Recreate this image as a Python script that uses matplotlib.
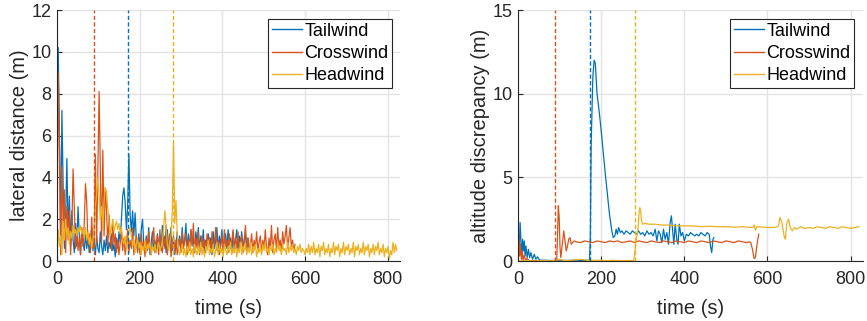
import numpy as np
import matplotlib
matplotlib.use("Agg")
import matplotlib.pyplot as plt

plt.rcParams['font.family'] = ['Liberation Sans', 'DejaVu Sans']

series_names = ["Tailwind", "Crosswind", "Headwind"]
colors = ["#0072BD", "#D95319", "#EDB120"]

# switch-over instants (s) for each wind case
switch_times = [172, 90, 281]

# lateral distance (m), sampled every 3 s
lat_step = 3
lat_tail = [4.5, 10.2, 6.0, 1.0, 7.2, 3.5, 0.6, 2.0, 4.9, 1.2, 3.1, 0.8, 2.4, 1.0, 0.4, 1.8, 0.7, 2.6, 1.2, 0.3,
            1.5, 0.9, 0.5, 1.3, 0.6, 1.1, 0.4, 0.9, 1.6, 0.5, 0.9, 0.3, 1.2, 0.6, 0.4, 1.4, 0.7, 0.3, 1.0, 0.5,
            1.2, 0.4, 0.9, 0.6, 1.3, 0.5, 0.8, 0.2, 1.1, 0.6, 1.4, 0.9, 2.0, 3.1, 3.5, 2.8, 1.5, 2.6, 5.1, 2.2,
            1.4, 2.4, 1.2, 2.3, 1.0, 0.5, 1.3, 0.7, 1.5, 2.0, 0.8, 0.4, 1.2, 0.6, 1.6, 0.3, 0.9, 1.4, 0.5, 1.0,
            0.4, 1.3, 0.7, 1.1, 0.5, 1.7, 0.8, 1.2, 0.4, 1.5, 0.6, 0.9, 1.6, 0.5, 1.1, 0.3, 0.8, 1.4, 0.6, 1.2,
            0.5, 1.6, 0.7, 1.0, 1.8, 0.4, 1.3, 0.6, 1.5, 0.8, 1.1, 0.4, 1.4, 0.9, 1.6, 0.5, 1.2, 0.7, 1.5, 0.4,
            1.0, 0.6, 1.3, 0.8, 1.1, 0.3, 1.4, 0.6, 1.0, 1.6, 0.5, 1.2, 0.7, 1.5, 0.4, 1.0, 1.3, 0.6, 1.5, 0.8,
            1.1, 0.4, 1.4, 0.7, 1.0, 1.5, 0.5, 1.2, 0.8, 1.4, 0.6, 1.0, 1.3, 0.5, 1.1, 0.7]
lat_cross = [0.5, 9.0, 5.4, 0.3, 4.5, 1.5, 3.4, 0.4, 2.6, 1.0, 2.4, 0.3, 1.6, 4.4, 2.5, 0.6, 1.4, 0.5, 1.1, 0.3,
             1.6, 0.7, 1.8, 3.7, 2.8, 0.8, 1.3, 0.4, 2.1, 0.6, 1.2, 5.1, 0.8, 4.6, 8.1, 4.2, 0.9, 5.3, 1.2, 3.5,
             2.4, 0.7, 2.2, 1.1, 0.5, 1.8, 0.8, 1.3, 0.4, 1.0, 0.3, 0.9, 1.4, 0.5, 1.1, 0.3, 0.8, 1.5, 0.4, 1.0,
             0.6, 1.6, 0.3, 0.8, 1.2, 0.4, 0.9, 0.3, 1.3, 0.6, 0.9, 0.2, 1.1, 0.5, 1.4, 0.7, 0.3, 1.0, 1.6, 0.4,
             0.8, 1.2, 0.3, 1.5, 0.7, 0.4, 1.1, 0.6, 1.7, 0.3, 0.9, 1.3, 0.2, 0.8, 1.2, 0.4, 1.0, 0.3, 0.7, 1.1,
             0.4, 1.4, 0.6, 0.9, 1.3, 0.3, 1.0, 0.5, 1.5, 0.7, 1.8, 0.4, 1.1, 0.6, 1.4, 0.3, 0.9, 1.2, 0.5, 1.0,
             0.4, 1.3, 0.7, 1.1, 0.4, 1.4, 0.6, 0.9, 1.6, 0.5, 1.0, 0.3, 0.8, 1.2, 0.5, 1.5, 0.7, 1.0, 0.4, 1.3,
             0.6, 0.9, 1.5, 0.4, 1.1, 0.6, 1.4, 0.5, 0.9, 1.2, 0.4, 1.0, 1.7, 0.6, 1.1, 0.5, 0.8, 1.3, 0.4, 1.0,
             0.6, 1.4, 0.5, 0.9, 1.2, 0.4, 1.0, 0.6, 1.5, 0.7, 0.3, 1.1, 0.6, 1.7, 0.4, 1.0, 1.3, 0.5, 1.6, 0.7,
             1.0, 0.4, 1.4, 0.8, 1.2, 1.7, 0.6, 1.1, 1.6, 0.7, 1.0, 0.5, 0.8]
lat_head = [0.5, 1.5, 0.7, 1.2, 0.3, 1.9, 1.0, 2.0, 1.2, 1.6, 0.8, 1.4, 1.1, 1.7, 1.3, 1.5, 1.2, 1.6, 1.4, 1.7,
            1.3, 1.5, 1.1, 1.6, 1.0, 1.4, 0.8, 1.2, 0.6, 1.0, 1.5, 2.6, 3.2, 4.0, 3.1, 2.0, 2.6, 1.5, 2.9, 3.5,
            3.3, 2.5, 1.8, 1.2, 1.6, 2.0, 1.4, 1.7, 1.9, 1.5, 1.8, 1.3, 1.6, 1.0, 0.8, 1.2, 0.5, 0.9, 1.4, 1.6,
            1.2, 0.7, 1.0, 0.4, 0.8, 1.1, 0.6, 0.9, 0.3, 0.7, 0.5, 1.0, 0.4, 0.8, 0.6, 0.9, 0.3, 0.7, 0.5, 0.8,
            0.4, 0.6, 0.9, 0.5, 0.7, 1.0, 1.6, 2.4, 1.7, 0.8, 0.5, 0.9, 1.2, 2.4, 5.6, 1.8, 2.9, 1.2, 0.6, 0.3,
            0.5, 0.8, 0.3, 0.6, 0.2, 0.7, 0.4, 0.9, 0.3, 0.6, 0.2, 0.8, 0.5, 0.3, 0.7, 0.4, 0.9, 0.3, 0.6, 0.2,
            0.7, 0.5, 1.0, 0.3, 0.6, 0.4, 0.8, 0.2, 0.5, 0.9, 0.3, 0.7, 0.4, 0.6, 0.2, 0.8, 0.5, 0.3, 0.7, 0.4,
            0.9, 0.3, 0.6, 0.4, 0.8, 0.2, 0.6, 0.4, 0.9, 0.3, 0.7, 0.5, 0.8, 0.3, 0.6, 0.4, 0.9, 0.3, 0.7, 0.5,
            0.8, 0.2, 0.6, 0.4, 0.7, 0.3, 0.8, 0.5, 0.9, 0.4, 0.6, 0.3, 0.7, 0.5, 0.8, 0.3, 0.6, 0.4, 0.9, 0.5,
            0.7, 0.3, 0.8, 0.5, 0.6, 0.3, 0.9, 0.4, 0.7, 0.5, 0.8, 0.4, 0.6, 0.3, 0.7, 0.5, 0.8, 0.4, 0.6, 0.5,
            0.3, 0.6, 0.4, 0.8, 0.3, 0.7, 0.4, 0.9, 0.3, 0.6, 0.4, 0.8, 0.2, 0.7, 0.5, 0.9, 0.3, 0.6, 0.4, 0.8,
            0.2, 0.6, 0.4, 0.9, 0.3, 0.7, 0.5, 0.8, 0.2, 0.6, 0.4, 0.9, 0.3, 0.7, 0.5, 0.8, 0.3, 0.6, 0.4, 0.9,
            0.2, 0.7, 0.5, 0.8, 0.3, 0.6, 0.4, 0.9, 0.3, 0.7, 0.5, 0.8, 0.2, 0.6, 0.4, 0.8, 0.3, 0.7, 0.5, 0.9,
            0.3, 0.6, 0.4, 0.8, 0.2, 0.6, 0.4, 0.7, 0.1, 0.5, 0.3, 0.9, 0.4, 0.8, 0.5]

# altitude discrepancy (m): sample times (s) and values
alt_tail_t = [0, 3, 5, 7, 9, 11, 13, 15, 17, 19, 22, 25, 28, 31, 35, 39, 43, 47, 52, 60, 80, 100, 120, 140, 160,
              172, 174, 176, 180, 183, 186, 190, 195, 200, 205, 210, 215, 220, 225, 229, 233, 236, 239, 242, 246,
              250, 255, 260, 265, 270, 275, 280, 285, 290, 295, 300, 305, 310, 315, 320, 325, 330, 334, 338, 342,
              346, 350, 354, 358, 362, 366, 369, 372, 375, 378, 382, 385, 388, 392, 396, 400, 405, 410, 415, 420,
              425, 430, 435, 440, 445, 450, 455, 460, 463, 466, 469, 471]
alt_tail = [0.0, 0.8, 2.3, 1.2, 0.3, 1.3, 0.6, 1.2, 0.3, 0.9, 0.2, 0.7, 0.2, 0.5, 0.1, 0.4, 0.1, 0.25, 0.05, 0.05,
            0.03, 0.05, 0.03, 0.05, 0.03, 0.05, 1.5, 7.0, 11.0, 12.0, 11.8, 10.0, 9.0, 7.8, 6.5, 5.2, 4.0, 2.8,
            1.9, 1.4, 1.5, 1.9, 1.6, 2.0, 1.7, 1.8, 1.6, 1.8, 1.7, 1.6, 1.8, 1.7, 1.6, 1.8, 1.6, 1.7, 1.5, 1.8,
            1.6, 1.7, 1.5, 1.9, 1.2, 1.8, 1.6, 1.1, 1.9, 1.3, 1.7, 1.0, 2.3, 2.7, 1.8, 1.0, 2.2, 1.3, 1.0, 2.2,
            1.5, 1.7, 1.2, 1.6, 1.5, 1.7, 1.6, 1.5, 1.6, 1.5, 1.7, 1.6, 1.5, 1.7, 1.6, 0.9, 0.5, 1.3, 1.4]
alt_cross_t = [0, 2, 4, 6, 8, 10, 12, 15, 18, 22, 26, 40, 60, 80, 93, 95, 97, 99, 101, 103, 106, 110, 113, 116,
               119, 122, 125, 128, 131, 135, 140, 150, 160, 170, 180, 190, 200, 210, 220, 230, 240, 250, 260,
               270, 280, 290, 300, 310, 320, 330, 340, 350, 360, 370, 380, 390, 400, 410, 420, 430, 440, 450,
               460, 470, 480, 490, 500, 510, 520, 530, 540, 550, 556, 560, 564, 568, 571, 575, 579]
alt_cross = [0.0, 1.4, 0.3, 1.0, 0.1, 0.6, 0.05, 0.35, 0.05, 0.15, 0.02, 0.02, 0.02, 0.02, 0.02, 1.5, 3.3, 2.6,
             0.8, 0.2, 0.9, 1.8, 1.2, 0.6, 0.9, 1.3, 1.4, 1.0, 1.1, 1.2, 1.15, 1.1, 1.2, 1.15, 1.1, 1.2, 1.15,
             1.1, 1.2, 1.15, 1.2, 1.1, 1.15, 1.2, 1.1, 1.2, 1.15, 1.1, 1.2, 1.15, 1.1, 1.2, 1.15, 1.1, 1.2, 1.15,
             1.1, 1.2, 1.15, 1.1, 1.2, 1.15, 1.1, 1.2, 1.15, 1.1, 1.2, 1.15, 1.1, 1.2, 1.15, 1.1, 1.15, 1.1, 0.7,
             0.15, 0.2, 1.0, 1.6]
alt_head_t = [0, 20, 40, 60, 80, 100, 110, 130, 150, 170, 190, 210, 230, 250, 270, 278, 280, 283, 286, 289, 291,
              293, 295, 297, 300, 305, 315, 330, 345, 360, 380, 400, 420, 440, 460, 480, 500, 520, 540, 560, 565,
              568, 571, 575, 590, 605, 620, 627, 630, 635, 640, 643, 647, 651, 655, 660, 665, 670, 680, 690, 700,
              710, 720, 730, 740, 750, 760, 770, 780, 790, 800, 810, 820]
alt_head = [0.0, 0.02, 0.0, 0.03, 0.0, 0.1, 0.02, 0.05, 0.1, 0.03, 0.05, 0.02, 0.04, 0.02, 0.03, 0.02, 0.3, 1.0,
            1.5, 2.0, 2.8, 3.2, 3.0, 2.4, 2.2, 2.25, 2.2, 2.2, 2.15, 2.15, 2.1, 2.1, 2.1, 2.05, 2.08, 2.05, 2.05,
            2.02, 2.05, 2.0, 2.02, 2.15, 1.85, 2.05, 2.02, 2.0, 2.02, 2.1, 2.6, 2.3, 1.5, 1.3, 2.3, 2.5, 2.0, 1.8,
            2.0, 1.9, 2.05, 1.95, 2.0, 1.95, 2.05, 2.0, 1.95, 2.05, 2.0, 1.95, 2.05, 2.0, 1.95, 2.0, 2.05]

lat_series = [lat_tail, lat_cross, lat_head]
alt_series = [(alt_tail_t, alt_tail), (alt_cross_t, alt_cross), (alt_head_t, alt_head)]

fig = plt.figure(figsize=(8.67, 3.21), dpi=100)
ax1 = fig.add_axes([0.0657, 0.1869, 0.3957, 0.7819])
ax2 = fig.add_axes([0.5975, 0.1869, 0.3979, 0.7819])


def style_axes(ax, ylim, yticks, ylabel):
    ax.set_xlim(0, 830)
    ax.set_ylim(*ylim)
    ax.set_xticks([0, 200, 400, 600, 800])
    ax.set_yticks(yticks)
    ax.grid(True, color="#e3e3e3", linewidth=1.0)
    ax.set_axisbelow(True)
    for side in ("top", "right"):
        ax.spines[side].set_visible(False)
    for side in ("left", "bottom"):
        ax.spines[side].set_color("#262626")
        ax.spines[side].set_linewidth(0.8)
    ax.tick_params(direction="in", length=3.5, width=0.8, color="#262626",
                   labelsize=13, labelcolor="#262626", pad=4)
    ax.tick_params(axis="x", pad=7.5)
    ax.set_xlabel("time (s)", fontsize=14.5, color="#262626", labelpad=7.5)
    ax.set_ylabel(ylabel, fontsize=14.5, color="#262626", labelpad=2)


for vals, name, c in zip(lat_series, series_names, colors):
    t = np.arange(len(vals)) * lat_step
    ax1.plot(t, vals, color=c, lw=0.9, label=name)
for (t, vals), name, c in zip(alt_series, series_names, colors):
    ax2.plot(t, vals, color=c, lw=0.9, label=name)

for ax in (ax1, ax2):
    for ts, c in zip(switch_times, colors):
        ax.axvline(ts, color=c, lw=1.0, dashes=(3.0, 1.7))

style_axes(ax1, (0, 12), [0, 2, 4, 6, 8, 10, 12], "lateral distance (m)")
style_axes(ax2, (0, 15), [0, 5, 10, 15], "altitude discrepancy (m)")

for ax, xa in ((ax1, 0.977), (ax2, 0.974)):
    leg = ax.legend(loc="upper right", bbox_to_anchor=(xa, 0.964), borderaxespad=0,
                    fontsize=13, fancybox=False, framealpha=1, edgecolor="#262626",
                    handlelength=1.65, handletextpad=0.15, labelspacing=0.3, borderpad=0.2)
    leg.get_frame().set_linewidth(0.8)
    for h in leg.get_lines():
        h.set_linewidth(1.0)

fig.savefig("out.png", dpi=100)
